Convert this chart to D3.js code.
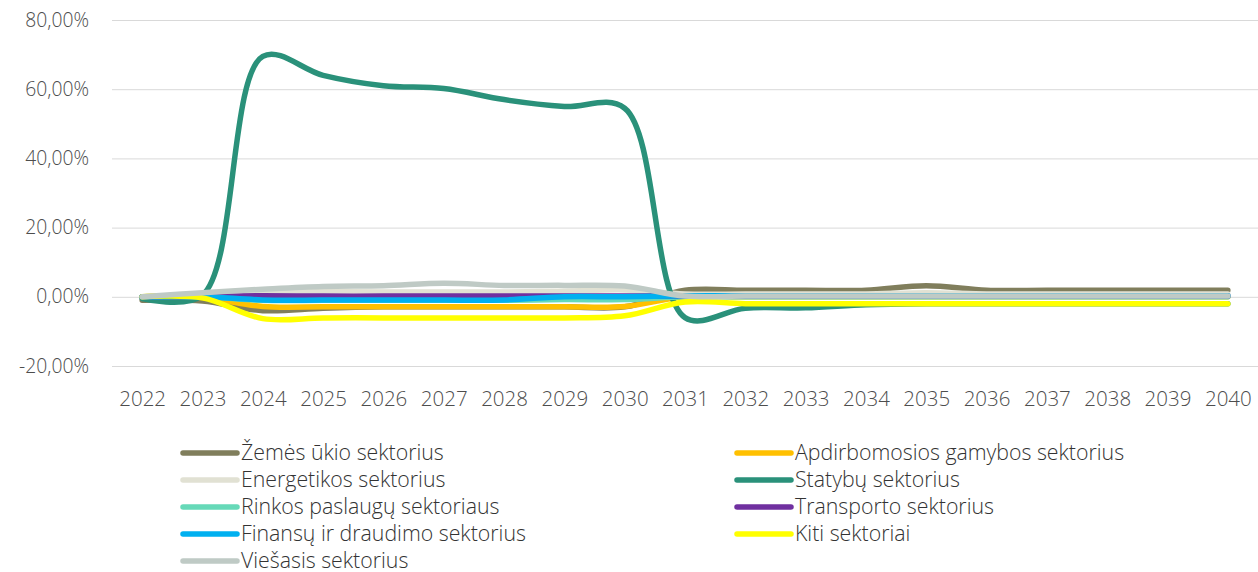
<!DOCTYPE html>
<html>
<head>
<meta charset="utf-8">
<script src="https://cdn.jsdelivr.net/npm/d3@7"></script>
<style>
  body { margin: 0; background: #fff; }
  svg text { font-family: "Open Sans", sans-serif; font-weight: 300; }
</style>
</head>
<body>
<svg id="chart" width="1258" height="572"></svg>
<script>
// categories
const years = ["2022","2023","2024","2025","2026","2027","2028","2029","2030","2031",
               "2032","2033","2034","2035","2036","2037","2038","2039","2040"];
const yTicks = [-20, 0, 20, 40, 60, 80];

// series values (%)
const zemes      = [-1, -1.2, -4, -3.3, -2.9, -2.9, -2.9, -2.9, -2.9, 1.9, 1.9, 1.9, 1.9, 3.2, 1.9, 1.9, 1.9, 1.9, 1.9];
const apdirb     = [0, -0.2, -2.8, -2.9, -2.9, -2.9, -2.9, -2.9, -2.8, 0, 0, 0, 0, 0, 0, 0, 0, 0, 0];
const energetika = [0, 0.6, 1.4, 1.5, 1.4, 1.4, 1.4, 1.6, 2.0, 0.8, 0.8, 0.8, 0.8, 1.2, 0.8, 0.8, 0.8, 0.8, 0.8];
const statybos   = [-0.5, 0.5, 69.5, 64, 61, 60.2, 57, 55, 54.5, -6, -3.3, -3.2, -2.3, -2, -2, -2, -2, -2, -2];
const rinkos     = [0, 0, -1, -1, -1, -1, -1, -0.8, -0.8, 0, 0, 0, 0, 0, 0, 0, 0, 0, 0];
const transportas= [0, 0.1, 0.3, 0.2, 0.2, 0.2, 0.2, 0.2, 0.2, 0.2, 0.2, 0.2, 0.2, 0.2, 0.2, 0.2, 0.2, 0.2, 0.2];
const finansai   = [0, 0, -0.9, -0.95, -0.95, -0.95, -0.9, 0, 0, 0.3, 0.3, 0.3, 0.3, 0.3, 0.3, 0.3, 0.3, 0.3, 0.3];
const kiti       = [0, -0.3, -6.3, -6.1, -6.1, -6.1, -6.1, -6.1, -5.5, -1.5, -2, -2, -2, -2, -2, -2, -2, -2, -2];
const viesasis   = [0, 1.2, 2.2, 3, 3.2, 3.9, 3.3, 3.3, 3.1, 0.2, 0.2, 0.2, 0.2, 0.2, 0.2, 0.2, 0.2, 0.2, 0.2];

const names = ["Žemės ūkio sektorius", "Apdirbomosios gamybos sektorius", "Energetikos sektorius",
               "Statybų sektorius", "Rinkos paslaugų sektoriaus", "Transporto sektorius",
               "Finansų ir draudimo sektorius", "Kiti sektoriai", "Viešasis sektorius"];
const valueLists = [zemes, apdirb, energetika, statybos, rinkos, transportas, finansai, kiti, viesasis];
const colors = ["#807E5C", "#FFC000", "#E1E1D3", "#2A917A", "#66D9B8", "#7030A0", "#00B0F0", "#FFFF00", "#BFCAC5"];

const series = names.map((name, i) => ({
  name,
  color: colors[i],
  values: years.map((yr, j) => ({ year: yr, v: valueLists[i][j] }))
}));

const svg = d3.select("#chart");
const plot = { left: 112, right: 1258, top: 20, bottom: 366 };

const x = d3.scalePoint().domain(years).range([plot.left, plot.right]).padding(0.5);
const y = d3.scaleLinear().domain([-20, 80]).range([plot.bottom, plot.top]);

const fmt = d => d.toFixed(2).replace(".", ",") + "%";

// y grid + labels
const yAxis = svg.append("g")
  .attr("transform", `translate(${plot.left},0)`)
  .call(d3.axisLeft(y).tickValues(yTicks).tickSize(-(plot.right - plot.left)).tickPadding(23).tickFormat(fmt));
yAxis.select(".domain").remove();
yAxis.selectAll("line").attr("stroke", "#D9D9D9").attr("stroke-width", 1);
yAxis.selectAll("text").attr("fill", "#4D4D4D").attr("font-size", 19.3);

// x labels
const xAxis = svg.append("g")
  .attr("transform", `translate(0,${plot.bottom})`)
  .call(d3.axisBottom(x).tickSize(0).tickPadding(25));
xAxis.select(".domain").remove();
xAxis.selectAll("text").attr("fill", "#4D4D4D").attr("font-size", 20.5);

// lines
const line = d3.line()
  .x(d => x(d.year))
  .y(d => y(d.v))
  .curve(d3.curveCatmullRom.alpha(0.5));

svg.append("g").selectAll("path")
  .data(series)
  .join("path")
  .attr("fill", "none")
  .attr("stroke", d => d.color)
  .attr("stroke-width", 5.5)
  .attr("stroke-linecap", "round")
  .attr("stroke-linejoin", "round")
  .attr("d", d => line(d.values));

// legend, two columns filled row by row
const legendCols = [183, 737];
const legend = svg.append("g").selectAll("g")
  .data(series)
  .join("g")
  .attr("transform", (d, i) => `translate(${legendCols[i % 2]},${453 + Math.floor(i / 2) * 27})`);

legend.append("line")
  .attr("x1", 0).attr("x2", 54)
  .attr("stroke", d => d.color)
  .attr("stroke-width", 5.5)
  .attr("stroke-linecap", "round");

legend.append("text")
  .attr("x", 58)
  .attr("dy", "0.35em")
  .attr("fill", "#333333")
  .attr("font-size", 21.3)
  .text(d => d.name);
</script>
</body>
</html>
